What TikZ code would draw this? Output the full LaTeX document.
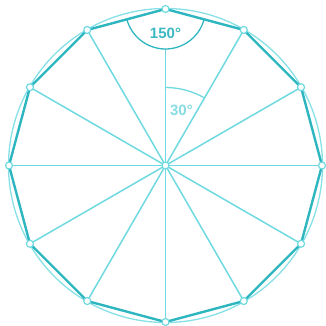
\documentclass[tikz,border=0pt]{standalone}
\usepackage{fontspec}
\setmainfont{Liberation Sans}
\usetikzlibrary{calc}
\definecolor{polyc}{HTML}{2EB6C0}
\definecolor{lightc}{HTML}{86E0E6}
\definecolor{spokec}{HTML}{6FD9E0}
\definecolor{txtdark}{HTML}{3DB8C2}
\definecolor{txtlight}{HTML}{86DCE2}
\tikzset{
  circ/.style={draw=lightc, line width=1.3pt},
  edge/.style={draw=polyc, line width=2.4pt, line join=round},
  spoke/.style={draw=spokec, line width=1.5pt},
  vdot/.style={circle, draw=spokec, fill=white, line width=1.2pt, inner sep=0pt, minimum size=7pt},
  anglearc/.style={draw=polyc, line width=1.3pt},
  anglearc2/.style={draw=spokec, line width=1.3pt},
  lbl/.style={font=\fontsize{15}{15}\selectfont\bfseries}
}
\begin{document}
\begin{tikzpicture}[x=1pt,y=1pt]
\useasboundingbox (-165.5,-160.5) rectangle (159.5,165.5);
\coordinate (O) at (0,0);
\draw[circ] (O) circle (157);
\foreach \i in {0,...,11} {
  \coordinate (v\i) at ({90-30*\i}:156.5);
}
\coordinate (topend) at ($(v0)+(0,-40)$);
\draw[spoke] (topend) -- (v6);
\foreach \i in {1,...,5} {
  \pgfmathtruncatemacro{\j}{\i+6}
  \draw[spoke] (v\i) -- (v\j);
}
\draw[edge] (v0) -- (v1) -- (v2) -- (v3) -- (v4) -- (v5) -- (v6) -- (v7) -- (v8) -- (v9) -- (v10) -- (v11) -- cycle;
% 150 degree arc at top vertex
\draw[anglearc] ($(v0)+(195:40)$) arc (195:345:40);
\node[lbl, text=txtdark] (a150) at ($(v0)+(0,-24)$) {150°};
% 30 degree arc at center
\draw[anglearc2] (90:78) arc (90:60:78);
\node[lbl, text=txtlight] (a30) at (16,55) {30°};
\foreach \i in {0,...,11} {
  \node[vdot] (d\i) at (v\i) {};
}
\node[vdot] (c) at (O) {};
\end{tikzpicture}
\end{document}
